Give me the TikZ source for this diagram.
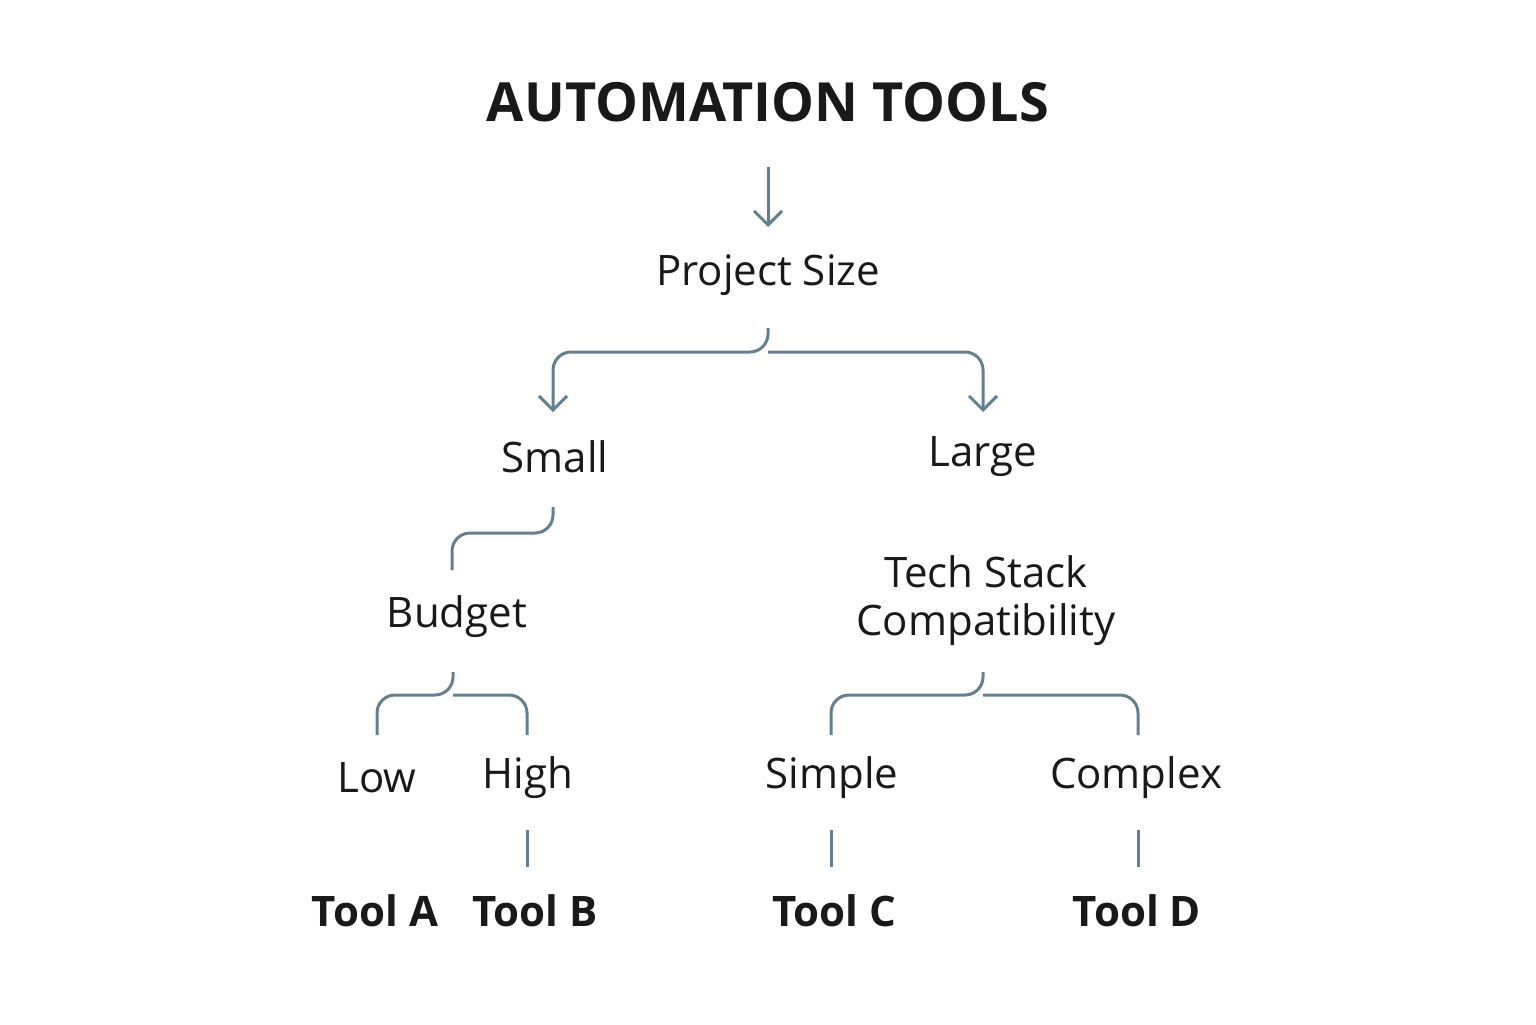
\documentclass[tikz,border=0pt]{standalone}
\usepackage{fontspec}
\setmainfont{Open Sans}
\usetikzlibrary{arrows.meta}
\definecolor{lc}{RGB}{100,128,142}
\definecolor{tc}{RGB}{25,25,25}
\begin{document}
\begin{tikzpicture}[x=0.5pt,y=-0.5pt,
  lbl/.style={text=tc,font=\fontsize{21}{26}\selectfont,align=center,inner sep=0},
  tool/.style={lbl,font=\fontsize{21}{26}\selectfont\bfseries},
  conn/.style={draw=lc,line width=1.5pt,rounded corners=9pt},
  arr/.style={conn,-{Straight Barb[length=7pt,width=14pt,line width=1.5pt]}}]
\useasboundingbox (0,0) rectangle (1536,1024);
\node[lbl,font=\fontsize{27}{32}\selectfont\bfseries] (title) at (768,102) {AUTOMATION TOOLS};
\node[lbl] (ps) at (768,275) {Project Size};
\node[lbl] (small) at (555,457) {Small};
\node[lbl] (large) at (983,457) {Large};
\node[lbl] (budget) at (457,617) {Budget};
\node[lbl] (tech) at (986,601) {Tech Stack\\[-2pt]Compatibility};
\node[lbl] (low) at (377,778) {Low};
\node[lbl] (high) at (528,778) {High};
\node[lbl] (simple) at (832,778) {Simple};
\node[lbl] (complex) at (1136,778) {Complex};
\node[tool] (ta) at (375,911) {Tool A};
\node[tool] (tb) at (535,911) {Tool B};
\node[tool] (tc) at (834,911) {Tool C};
\node[tool] (td) at (1137,911) {Tool D};
% coordinates
\coordinate (t1) at (768,167); \coordinate (t2) at (768,227);
\coordinate (p0) at (768,328); \coordinate (pm) at (768,352);
\coordinate (sa) at (553,412); \coordinate (la) at (983,412);
\coordinate (s0) at (553,507); \coordinate (b1) at (452,570);
\coordinate (b0) at (453,672); \coordinate (bm) at (453,695);
\coordinate (lo) at (377,735); \coordinate (hi) at (527,735);
\coordinate (c0) at (983,672); \coordinate (cm) at (983,695);
\coordinate (si) at (831,735); \coordinate (co) at (1138,735);
\draw[arr,rounded corners=0] (t1) -- (t2);
\draw[arr] (p0) -- (pm) -| (sa);
\draw[arr] (pm) -| (la);
\draw[conn] (s0) -- (553,533) -| (b1);
\draw[conn] (b0) -- (bm) -| (lo);
\draw[conn] (bm) -| (hi);
\draw[conn] (c0) -- (cm) -| (si);
\draw[conn] (cm) -| (co);
\draw[conn] (527,830) -- (527,867);
\draw[conn] (831,830) -- (831,867);
\draw[conn] (1138,830) -- (1138,867);
\end{tikzpicture}
\end{document}
